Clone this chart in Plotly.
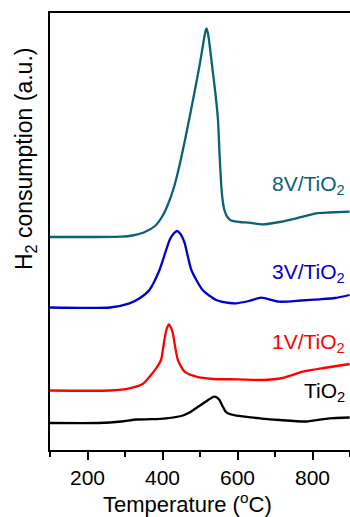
import plotly.graph_objects as go

# Temperature-programmed reduction profiles, stacked with vertical offsets (a.u.)
temp_8v = [100, 200, 290, 320, 350, 380, 400, 415, 430, 445, 460, 475, 488, 500, 508, 513, 517,
           521, 526, 532, 541, 548, 552, 557, 561, 565, 573, 583, 605, 632, 667, 712, 757, 810, 845, 899]
h2_8v = [213, 213, 213.3, 214.5, 217.5, 224, 234, 246, 262, 284, 310, 338, 363, 387, 405, 416, 421.5,
         417, 404, 385, 357, 330, 297, 263, 248, 240, 233, 229.5, 228, 227.3, 225.7, 228, 231.7, 236.7, 237.5, 238.3]

temp_3v = [100, 260, 312, 339, 365, 392, 419, 430, 439, 448, 459, 477, 507, 543, 579, 597, 630,
           663, 712, 770, 819, 860, 899]
h2_3v = [142.5, 142.5, 146.7, 151.7, 160, 180, 210, 216.5, 219, 216, 207, 180, 160, 150, 147, 146.7, 149,
         152.3, 148.3, 149.5, 150.7, 152, 155]

temp_1v = [100, 260, 312, 347, 383, 396, 405, 411, 417, 423, 427.5, 441, 459, 490, 534, 605, 667,
           720, 774, 830, 899]
h2_1v = [59.5, 59.5, 61.7, 66, 81.7, 90, 110, 121, 125.7, 122, 116.7, 90, 78.3, 73.3, 71, 70.7, 70,
         72, 78.3, 82, 86]

temp_tio2 = [100, 230, 290, 330, 370, 410, 450, 472, 490, 510, 530, 539, 545, 552, 560, 567, 574,
             597, 659, 712, 783, 845, 899]
h2_tio2 = [27, 27, 28.5, 30.5, 30.8, 31.7, 34, 37.5, 42, 47, 52, 53.3, 52.5, 50, 44, 39, 36.7,
           34.3, 31.7, 30, 28.5, 31.7, 32.5]

series = [
    ("8V/TiO<sub>2</sub>", temp_8v, h2_8v, "#0a6272", 265.5),
    ("3V/TiO<sub>2</sub>", temp_3v, h2_3v, "#0000cc", 177),
    ("1V/TiO<sub>2</sub>", temp_1v, h2_1v, "#ff0000", 107),
    ("TiO<sub>2</sub>", temp_tio2, h2_tio2, "#000000", 58.3),
]

font_family = "Liberation Sans, Arial, sans-serif"

fig = go.Figure()
annotations = []
for name, t, h, color, label_y in series:
    fig.add_trace(go.Scatter(
        x=t, y=h, mode="lines", name=name,
        line=dict(color=color, width=2.3, shape="spline", smoothing=0.6),
        showlegend=False,
    ))
    annotations.append(dict(
        x=893, y=label_y, xref="x", yref="y", text=name, showarrow=False,
        xanchor="right", yanchor="middle",
        font=dict(family=font_family, size=21, color=color),
    ))

# Axis titles
annotations.append(dict(
    x=(187 - 50) / 300, y=-0.121, xref="paper", yref="paper",
    text="Temperature (<sup>o</sup>C)", showarrow=False,
    xanchor="center", yanchor="middle",
    font=dict(family=font_family, size=22, color="black"),
))
annotations.append(dict(
    x=(25 - 50) / 300, y=(450 - 159) / 437, xref="paper", yref="paper",
    text="H<sub>2</sub> consumption (a.u.)", showarrow=False, textangle=-90,
    xanchor="center", yanchor="middle",
    font=dict(family=font_family, size=23, color="black"),
))

fig.update_layout(
    width=350, height=517,
    margin=dict(l=50, r=0, t=13, b=67),
    paper_bgcolor="white", plot_bgcolor="white",
    annotations=annotations,
    xaxis=dict(
        range=[100, 900], tick0=200, dtick=200,
        ticks="outside", ticklen=8, tickwidth=2, tickcolor="black",
        minor=dict(ticks="outside", ticklen=5, tickwidth=2, tickcolor="black", dtick=100),
        showline=True, linewidth=2, linecolor="black", mirror=True,
        showgrid=False, zeroline=False,
        tickfont=dict(family=font_family, size=21, color="black"),
    ),
    yaxis=dict(
        range=[0, 437], showticklabels=False, ticks="",
        showline=True, linewidth=2, linecolor="black", mirror=False,
        showgrid=False, zeroline=False,
    ),
)

fig.write_html("out.html")
